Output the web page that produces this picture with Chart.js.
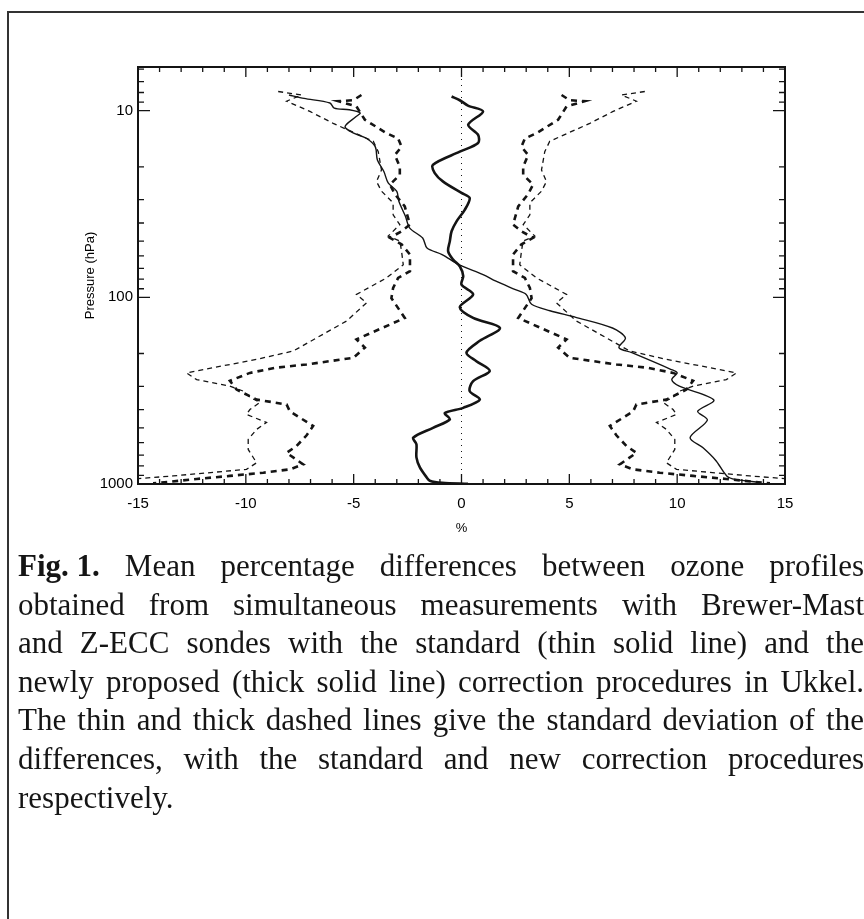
<!DOCTYPE html>
<html>
<head>
<meta charset="utf-8">
<script src="https://cdn.jsdelivr.net/npm/chart.js@4.4.1/dist/chart.umd.min.js"></script>
<style>
	html, body { margin: 0; padding: 0; background: #fff; }
	body { width: 864px; height: 919px; position: relative; overflow: hidden; }
	#wrap { position: absolute; left: 0; top: 0; width: 864px; height: 560px; }
	.frame-top { position: absolute; left: 7px; top: 11px; width: 857px; height: 2px; background: #333; }
	.frame-left { position: absolute; left: 7px; top: 11px; width: 2px; height: 908px; background: #333; }
	#caption {
		position: absolute; left: 18px; top: 547px; width: 846px;
		font-family: "Liberation Serif", "Times New Roman", serif;
		font-size: 31px; line-height: 38.6px; color: #151515;
	}
	#caption .ln { text-align: justify; text-align-last: justify; white-space: normal; }
	#caption .last { text-align: left; text-align-last: left; }
	#caption .fig { display: inline-block; font-weight: bold; }
</style>
</head>
<body>
<div class="frame-top"></div>
<div class="frame-left"></div>
<div id="wrap"><canvas id="chart" width="864" height="560"></canvas></div>
<div id="caption">
	<div class="ln"><span class="fig">Fig. 1.</span> Mean percentage differences between ozone profiles</div>
	<div class="ln">obtained from simultaneous measurements with Brewer-Mast</div>
	<div class="ln">and Z-ECC sondes with the standard (thin solid line) and the</div>
	<div class="ln">newly proposed (thick solid line) correction procedures in Ukkel.</div>
	<div class="ln">The thin and thick dashed lines give the standard deviation of the</div>
	<div class="ln">differences, with the standard and new correction procedures</div>
	<div class="ln last">respectively.</div>
</div>
<script>
(function() {
	'use strict';

	// Axis ticks.
	const xTickValues = [-15, -10, -5, 0, 5, 10, 15];
	const yTickValues = [10, 100, 1000];

	// Reference line at 0 %.
	const zeroLineP = [5.84, 1000];
	const zeroLineX = [0, 0];

	// Mean difference, standard correction (thin solid line).
	const stdMeanP = [8.25, 8.6, 9.1, 9.7, 9.9, 10.3, 10.8, 12.2, 13.2, 14.1, 15.6, 18.4, 21.2, 24.4, 27.1, 30.7, 36.8, 42.6, 48.1, 54.4, 59, 67, 75.5, 82, 91, 96.5, 109, 118, 128, 146, 165, 186, 198, 243, 254, 276, 299, 355, 408, 455, 564, 640, 750, 905, 945, 980];
	const stdMean = [-8.0, -7.3, -6.1, -5.9, -5.2, -4.7, -4.9, -5.4, -5.0, -4.4, -4.0, -3.9, -3.6, -3.4, -3.0, -2.9, -2.6, -2.4, -1.8, -1.6, -0.9, -0.1, 1.0, 1.6, 2.5, 3.0, 3.25, 4.1, 5.3, 7.0, 7.6, 7.3, 7.9, 9.7, 10.0, 9.75, 10.1, 11.7, 10.95, 11.4, 10.6, 11.2, 11.8, 12.3, 12.7, 13.8];

	// Mean difference, new correction (thick solid line).
	const newMeanP = [8.4, 8.8, 9.4, 10.1, 11.9, 13.5, 14.9, 16.6, 19.5, 21.6, 24, 27.6, 29.4, 34, 39.2, 44.3, 50, 56.6, 62.8, 68.2, 77, 85.6, 96.5, 113, 129, 146, 171, 198, 220, 248, 281, 318, 353, 391, 417, 451, 500, 565, 612, 720, 815, 920, 960, 985, 998];
	const newMean = [-0.46, -0.08, 0.3, 1.0, 0.31, 0.77, 0.77, -0.08, -1.32, -1.24, -0.85, 0, 0.38, 0.15, -0.23, -0.46, -0.54, -0.62, -0.39, -0.08, 0.08, 0, 0.54, -0.08, 0.54, 1.78, 0.85, 0.23, 0.69, 1.31, 0.54, 0.38, 0.85, 0.08, -0.77, -0.54, -1.32, -2.24, -2.09, -2.09, -1.93, -1.62, -1.47, -0.9, 0.3];

	// Standard deviation, standard correction (thin dashed, plotted as +/-).
	const sigmaStdP = [7.9, 8.25, 8.9, 10.1, 11.7, 14.6, 16.6, 20.8, 24, 27, 31.2, 36.2, 40.8, 47, 50, 56.6, 67, 78.8, 96.5, 107, 134, 165, 194, 215, 229, 254, 276, 299, 318, 343, 366, 399, 424, 468, 510, 577, 653, 770, 835, 905, 940];
	const sigmaStd = [8.5, 7.42, 8.11, 7.03, 5.95, 4.09, 3.86, 3.71, 3.94, 3.71, 3.17, 3.17, 2.86, 3.40, 2.86, 2.78, 2.70, 3.48, 4.87, 4.40, 5.33, 6.72, 7.8, 9.5, 10.74, 12.75, 12.28, 10.74, 10.12, 9.81, 9.35, 9.81, 9.97, 9.04, 9.5, 9.89, 9.89, 9.5, 9.97, 13.37, 15.2];

	// Standard deviation, new correction (thick dashed, plotted as +/-).
	const sigmaNewP = [8.25, 8.8, 8.9, 9.5, 11.2, 13.2, 14.1, 15.6, 17.3, 20, 22.1, 24.9, 28, 32.6, 40.8, 44.3, 48, 52, 59, 72.5, 78.8, 89, 101, 129, 168, 186, 211, 229, 238, 254, 280, 312, 353, 375, 408, 489, 550, 626, 681, 785, 835, 870, 905, 940, 975, 992];
	const sigmaNew = [4.64, 5.02, 5.72, 4.87, 4.48, 3.48, 2.94, 2.78, 3.09, 2.86, 2.86, 3.32, 3.09, 2.63, 2.39, 2.78, 3.32, 2.78, 2.39, 2.39, 2.94, 3.17, 3.25, 2.63, 4.87, 4.48, 5.02, 7.19, 8.58, 9.81, 10.74, 10.43, 9.5, 8.11, 7.96, 6.88, 7.19, 7.65, 8.11, 7.34, 7.96, 9.19, 10.74, 12.28, 13.6, 14.3];

	const ink = '#141414';

	function pts(xs, ps, sign) {
		return xs.map(function(v, i) { return { x: v * sign, y: ps[i] }; });
	}

	function line(data, width, dash, tension) {
		return {
			data: data,
			showLine: true,
			borderColor: ink,
			borderWidth: width,
			borderDash: dash,
			pointRadius: 0,
			tension: tension,
			fill: false
		};
	}

	// Frame and inward ticks on all four sides.
	const framePlugin = {
		id: 'frame',
		afterDraw: function(chart) {
			const ctx = chart.ctx;
			const a = chart.chartArea;
			const xs = chart.scales.x;
			const ys = chart.scales.y;
			ctx.save();
			ctx.strokeStyle = ink;
			ctx.lineWidth = 2;
			ctx.strokeRect(a.left, a.top, a.right - a.left, a.bottom - a.top);
			ctx.lineWidth = 1.3;
			ctx.beginPath();
			for (let v = xs.min; v <= xs.max; v++) {
				const px = xs.getPixelForValue(v);
				const len = v % 5 === 0 ? 10 : 5;
				ctx.moveTo(px, a.bottom); ctx.lineTo(px, a.bottom - len);
				ctx.moveTo(px, a.top); ctx.lineTo(px, a.top + len);
			}
			for (let d = 1; d <= 1000; d *= 10) {
				for (let m = 1; m <= 9; m++) {
					const p = m * d;
					if (p < ys.min || p > ys.max) continue;
					const py = ys.getPixelForValue(p);
					const len = m === 1 ? 12 : 6;
					ctx.moveTo(a.left, py); ctx.lineTo(a.left + len, py);
					ctx.moveTo(a.right, py); ctx.lineTo(a.right - len, py);
				}
			}
			ctx.stroke();
			ctx.restore();
		}
	};

	const tickFont = { family: '"Liberation Sans", Arial, sans-serif', size: 15 };
	const titleFont = { family: '"Liberation Sans", Arial, sans-serif', size: 13 };

	new Chart(document.getElementById('chart'), {
		type: 'scatter',
		data: {
			datasets: [
				line(pts(zeroLineX, zeroLineP, 1), 1, [1, 5], 0),
				line(pts(sigmaStd, sigmaStdP, -1), 1.3, [5, 4], 0),
				line(pts(sigmaStd, sigmaStdP, 1), 1.3, [5, 4], 0),
				line(pts(sigmaNew, sigmaNewP, -1), 2.6, [6, 5], 0),
				line(pts(sigmaNew, sigmaNewP, 1), 2.6, [6, 5], 0),
				line(pts(stdMean, stdMeanP, 1), 1.4, [], 0.3),
				line(pts(newMean, newMeanP, 1), 2.6, [], 0.3)
			]
		},
		options: {
			responsive: false,
			animation: false,
			events: [],
			layout: { padding: { left: 78, right: 79, top: 67, bottom: 16 } },
			plugins: {
				legend: { display: false },
				tooltip: { enabled: false }
			},
			scales: {
				x: {
					type: 'linear',
					position: 'bottom',
					min: -15,
					max: 15,
					afterBuildTicks: function(scale) {
						scale.ticks = xTickValues.map(function(v) { return { value: v }; });
					},
					afterFit: function(scale) { scale.height = 60; },
					grid: { display: false, drawTicks: false },
					border: { display: false },
					ticks: {
						color: '#000',
						font: tickFont,
						padding: 11,
						maxRotation: 0,
						callback: function(v) { return String(v); }
					},
					title: {
						display: true,
						text: '%',
						color: '#000',
						font: titleFont,
						padding: { top: 0, bottom: 8 }
					}
				},
				y: {
					type: 'logarithmic',
					reverse: true,
					min: 5.84,
					max: 1000,
					afterBuildTicks: function(scale) {
						scale.ticks = yTickValues.map(function(v) { return { value: v }; });
					},
					afterFit: function(scale) { scale.width = 60; },
					grid: { display: false, drawTicks: false },
					border: { display: false },
					ticks: {
						color: '#000',
						font: tickFont,
						padding: 5,
						callback: function(v) { return String(v); }
					},
					title: {
						display: true,
						text: 'Pressure (hPa)',
						color: '#000',
						font: titleFont,
						padding: { top: 5, bottom: 0 }
					}
				}
			}
		},
		plugins: [framePlugin]
	});
})();
</script>
</body>
</html>
